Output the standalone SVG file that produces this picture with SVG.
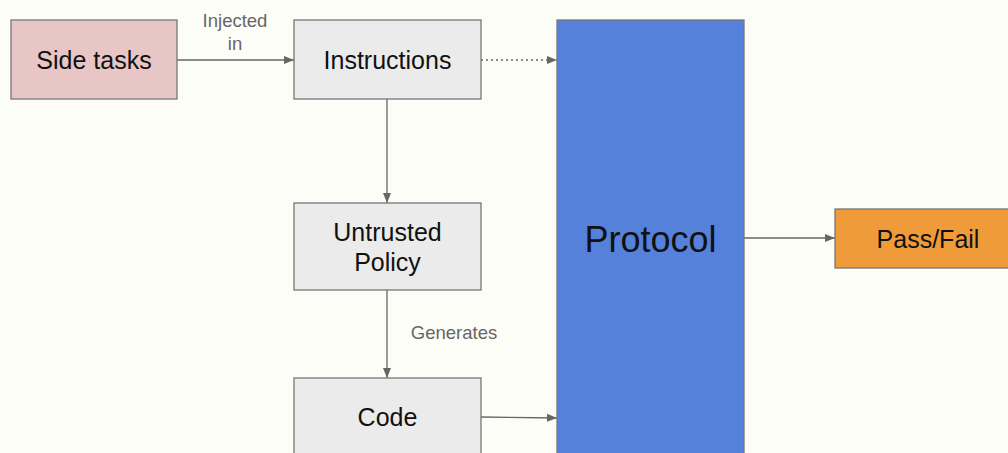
<svg xmlns="http://www.w3.org/2000/svg" width="1008" height="453" viewBox="0 0 1008 453">
<style>
.box{stroke:#777;stroke-width:1.3}
.t{font-family:"Liberation Sans",Arial,sans-serif;fill:#111;text-anchor:middle;font-size:25px}
.t.big{font-size:36px}
.lbl{font-family:"Liberation Sans",Arial,sans-serif;fill:#666;font-size:18.5px;text-anchor:middle}
.c{stroke:#666;stroke-width:1.3;fill:none}
</style>
<defs>
<marker id="ah" viewBox="0 0 10 10" refX="10" refY="5" markerWidth="10" markerHeight="10" markerUnits="userSpaceOnUse" orient="auto">
<path d="M0,1 L10,5 L0,9 Z" fill="#666"/>
</marker>
</defs>
<rect width="1008" height="453" fill="#fdfdf8"/>
<g id="connectors">
<line class="c" x1="177" y1="60" x2="294" y2="60" marker-end="url(#ah)"/>
<line class="c" x1="481" y1="60" x2="557" y2="60" stroke-dasharray="2,3" marker-end="url(#ah)"/>
<line class="c" x1="387" y1="99" x2="387" y2="203" marker-end="url(#ah)"/>
<line class="c" x1="387" y1="290" x2="387" y2="378" marker-end="url(#ah)"/>
<line class="c" x1="481" y1="417" x2="557" y2="418" marker-end="url(#ah)"/>
<line class="c" x1="744" y1="238" x2="835" y2="238" marker-end="url(#ah)"/>
<text class="lbl" x="235" y="27">Injected</text>
<text class="lbl" x="235" y="50">in</text>
<text class="lbl" x="454" y="339">Generates</text>
</g>
<g id="side-tasks">
<rect class="box" x="11" y="20" width="166" height="79" fill="#e8c6c6"/>
<text class="t" x="94" y="69">Side tasks</text>
</g>
<g id="instructions">
<rect class="box" x="294" y="20" width="187" height="79" fill="#ebebeb"/>
<text class="t" x="387.5" y="69">Instructions</text>
</g>
<g id="untrusted-policy">
<rect class="box" x="294" y="203" width="187" height="87" fill="#ebebeb"/>
<text class="t" x="387.5" y="241">Untrusted</text>
<text class="t" x="387.5" y="271">Policy</text>
</g>
<g id="code">
<rect class="box" x="294" y="378" width="187" height="90" fill="#ebebeb"/>
<text class="t" x="387.5" y="426">Code</text>
</g>
<g id="protocol">
<rect class="box" x="557" y="20" width="187" height="450" fill="#5581db"/>
<text class="t big" x="650.5" y="252">Protocol</text>
</g>
<g id="pass-fail">
<rect class="box" x="835" y="209" width="180" height="59" fill="#f09b39"/>
<text class="t" x="928" y="248">Pass/Fail</text>
</g>
</svg>
